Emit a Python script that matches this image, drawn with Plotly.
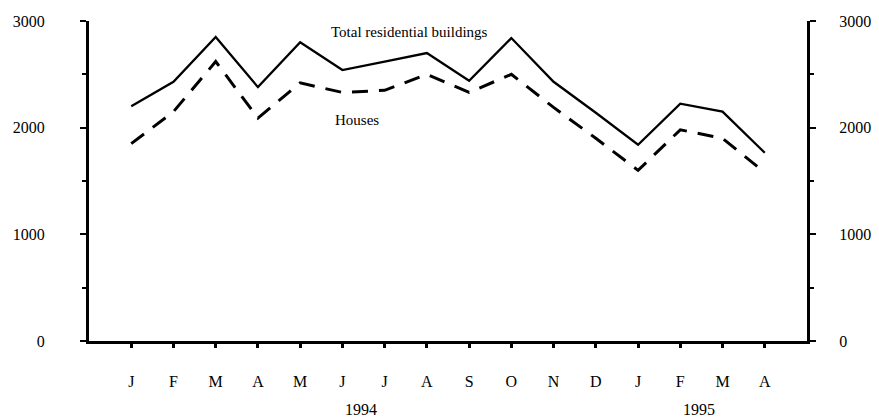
import plotly.graph_objects as go

months = ["J", "F", "M", "A", "M", "J", "J", "A", "S", "O", "N", "D", "J", "F", "M", "A"]
total_residential = [2200, 2430, 2850, 2380, 2800, 2540, 2620, 2700, 2440, 2840, 2430, 2140, 1840, 2225, 2150, 1765]
houses = [1850, 2150, 2620, 2090, 2420, 2330, 2350, 2500, 2330, 2500, 2190, 1900, 1600, 1980, 1900, 1580]
y_ticks = [0, 1000, 2000, 3000]
y_tick_labels = ["0", "1000", "2000", "3000"]
years = ["1994", "1995"]
year_pos = [5.45, 13.45]

x = list(range(len(months)))
FONT = "Liberation Serif"
NBSP = "\u00a0"

fig = go.Figure()
fig.add_trace(go.Scatter(x=x, y=total_residential, mode="lines",
                         line=dict(color="black", width=2.3), showlegend=False))
fig.add_trace(go.Scatter(x=x, y=houses, mode="lines",
                         line=dict(color="black", width=3, dash="16px,11px"), showlegend=False))
# invisible trace to anchor the right axis
fig.add_trace(go.Scatter(x=x, y=total_residential, mode="lines", yaxis="y2",
                         line=dict(color="rgba(0,0,0,0)"), hoverinfo="skip", showlegend=False))

fig.add_annotation(x=6.58, y=2897, text="Total residential buildings", showarrow=False,
                   font=dict(family=FONT, size=15, color="black"), xanchor="center", yanchor="middle")
fig.add_annotation(x=5.34, y=2072, text="Houses", showarrow=False,
                   font=dict(family=FONT, size=15, color="black"), xanchor="center", yanchor="middle")
for yr, pos in zip(years, year_pos):
    fig.add_annotation(x=pos, y=-0.215, yref="paper", text=yr, showarrow=False,
                       font=dict(family=FONT, size=16, color="black"), xanchor="center", yanchor="middle")

fig.update_layout(
    width=879, height=418, autosize=False,
    margin=dict(l=89, r=72, t=21, b=77, autoexpand=False),
    plot_bgcolor="white", paper_bgcolor="white",
    font=dict(family=FONT, size=16, color="black"),
    xaxis=dict(range=[-1, 16], tickvals=x, ticktext=months, showgrid=False, zeroline=False,
               automargin=False,
               showline=True, linecolor="black", linewidth=3, ticks="outside", ticklen=4,
               tickwidth=3, tickcolor="black", ticklabelstandoff=20),
    yaxis=dict(range=[0, 3000], tickvals=y_ticks, ticktext=y_tick_labels, showgrid=False,
               zeroline=False, showline=True, linecolor="black", linewidth=3, ticks="outside",
               automargin=False,
               ticklen=6, tickwidth=2, tickcolor="black", ticklabelstandoff=32,
               minor=dict(dtick=500, ticks="outside", ticklen=4, tickwidth=2, tickcolor="black")),
    yaxis2=dict(range=[0, 3000], tickvals=y_ticks,
                ticktext=[NBSP * 5 + t for t in y_tick_labels],
                overlaying="y", side="right", anchor="x", showgrid=False, automargin=False,
                zeroline=False, showline=True, linecolor="black", linewidth=3, ticks="outside",
                ticklen=6, tickwidth=2, tickcolor="black",
                minor=dict(dtick=500, ticks="outside", ticklen=4, tickwidth=2, tickcolor="black")),
)

fig.write_html("out.html", config={"displayModeBar": False},
               post_script="document.body.style.margin='0';document.body.style.padding='0';")
